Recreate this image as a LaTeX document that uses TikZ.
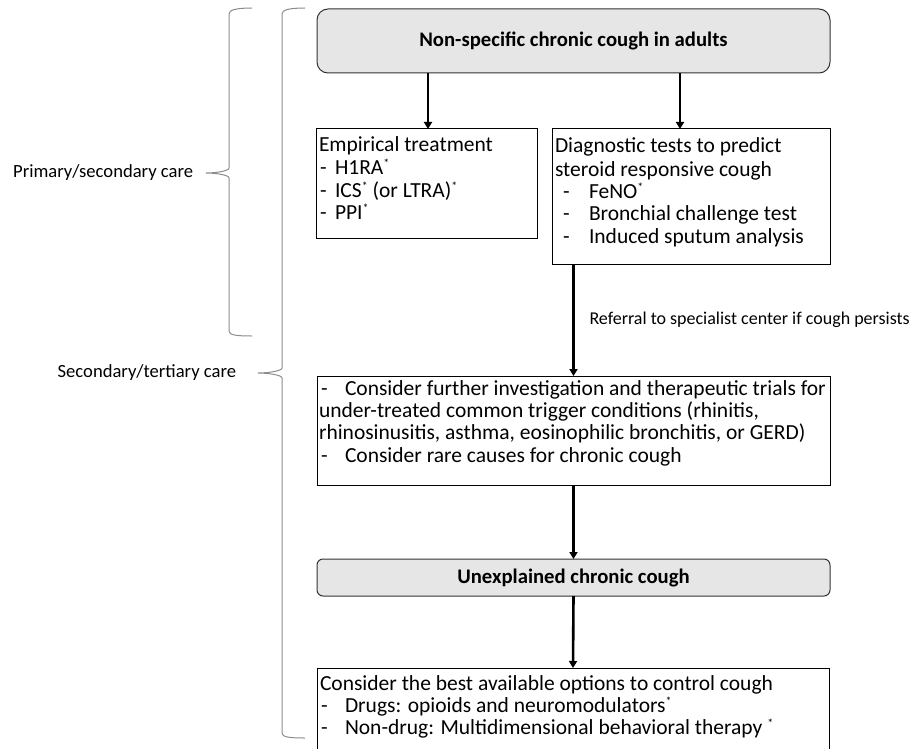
\documentclass[tikz,border=0pt]{standalone}
\usepackage{fontspec}
\setmainfont{Carlito}
\usetikzlibrary{arrows.meta}
\definecolor{boxgray}{HTML}{E6E6E6}
\definecolor{bracegray}{HTML}{8C8C8C}
\newcommand{\sstar}{\raisebox{0.28em}{\fontsize{12}{12}\selectfont *}}
\begin{document}
\begin{tikzpicture}[x=1pt,y=-1pt,
  every node/.style={inner sep=0pt, outer sep=0pt},
  txt/.style={anchor=base west, font=\fontsize{21.5}{22}\selectfont},
  lbl/.style={font=\fontsize{18.6}{20}\selectfont},
  reflbl/.style={font=\fontsize{18}{20}\selectfont},
  roundbox/.style={draw=black!80, fill=boxgray, line width=1pt, rounded corners=11pt, font=\fontsize{20.7}{22}\selectfont\bfseries},
  plainbox/.style={draw=black, line width=1pt},
  arr/.style={line width=2.6pt, -{Triangle[width=8pt,length=7pt]}},
  bracestyle/.style={draw=bracegray, line width=1pt}]
\useasboundingbox (0,0) rectangle (918,749);
% boxes
\node[roundbox, minimum width=513pt, minimum height=64pt] (top) at (573.5,41) {Non-specific chronic cough in adults};
\node[plainbox, minimum width=221pt, minimum height=109pt] (emp) at (426.5,183.5) {};
\node[plainbox, minimum width=278pt, minimum height=135pt] (diag) at (691,196.5) {};
\node[plainbox, minimum width=513pt, minimum height=109pt] (inv) at (573.5,430.5) {};
\node[roundbox, rounded corners=6pt, minimum width=513pt, minimum height=37pt] (unex) at (573.5,577.5) {Unexplained chronic cough};
\node[plainbox, minimum width=512pt, minimum height=86pt] (best) at (573,711) {};
% empirical text
\node[txt] (e1) at (319,152) {Empirical treatment};
\node[txt] (e2d) at (320,174) {-};
\node[txt] (e2) at (335,174) {H1RA\sstar};
\node[txt] (e3d) at (320,197) {-};
\node[txt] (e3) at (335,197) {ICS\sstar{} (or LTRA)\sstar};
\node[txt] (e4d) at (320,219) {-};
\node[txt] (e4) at (335,219) {PPI\sstar};
% diagnostic text
\node[txt] (d1) at (555,153) {Diagnostic tests to predict};
\node[txt] (d2) at (555,176) {steroid responsive cough};
\node[txt] (d3d) at (563,198) {-};
\node[txt] (d3) at (589,198) {FeNO\sstar};
\node[txt] (d4d) at (563,220) {-};
\node[txt] (d4) at (589,220) {Bronchial challenge test};
\node[txt] (d5d) at (563,243) {-};
\node[txt] (d5) at (589,243) {Induced sputum analysis};
% investigation text
\node[txt] (i1d) at (321,395) {-};
\node[txt] (i1) at (345,395) {Consider further investigation and therapeutic trials for};
\node[txt] (i2) at (319,417) {under-treated common trigger conditions (rhinitis,};
\node[txt] (i3) at (319,439) {rhinosinusitis, asthma, eosinophilic bronchitis, or GERD)};
\node[txt] (i4d) at (321,462) {-};
\node[txt] (i4) at (345,462) {Consider rare causes for chronic cough};
% best text
\node[txt] (b1) at (320,690) {Consider the best available options to control cough};
\node[txt] (b2d) at (321,712) {-};
\node[txt] (b2) at (345,712) {Drugs: opioids and neuromodulators\sstar};
\node[txt] (b3d) at (321,734) {-};
\node[txt] (b3) at (345,734) {Non-drug: Multidimensional behavioral therapy \sstar};
% arrows
\draw[arr] ([xshift=1.5pt]emp.north |- top.south) -- ([xshift=1.5pt]emp.north);
\draw[arr] ([xshift=-11pt]diag.north |- top.south) -- ([xshift=-11pt]diag.north);
\draw[arr] (diag.south -| inv.north) -- (inv.north) node[pos=0.5, right=16pt, reflbl, text=black] (ref) {Referral to specialist center if cough persists};
\draw[arr] (inv.south) -- (unex.north);
\draw[arr] (unex.south) -- (best.north);
% braces
\draw[bracestyle] (252,8) .. controls (236,8) and (229,10) .. (229,14) -- (229,168)
  .. controls (229,171) and (216,173) .. (206,173)
  .. controls (216,173) and (229,175) .. (229,178) -- (229,331)
  .. controls (229,335) and (236,336) .. (252,336);
\draw[bracestyle] (305,8) .. controls (289,8) and (282,10) .. (282,14) -- (282,368)
  .. controls (282,371) and (268,373) .. (258,373)
  .. controls (268,373) and (282,375) .. (282,378) -- (282,733)
  .. controls (282,737) and (289,738) .. (305,738);
\node[lbl, anchor=east] (psc) at (193,173) {Primary/secondary care};
\node[lbl, anchor=east] (stc) at (236,373) {Secondary/tertiary care};
\end{tikzpicture}
\end{document}
